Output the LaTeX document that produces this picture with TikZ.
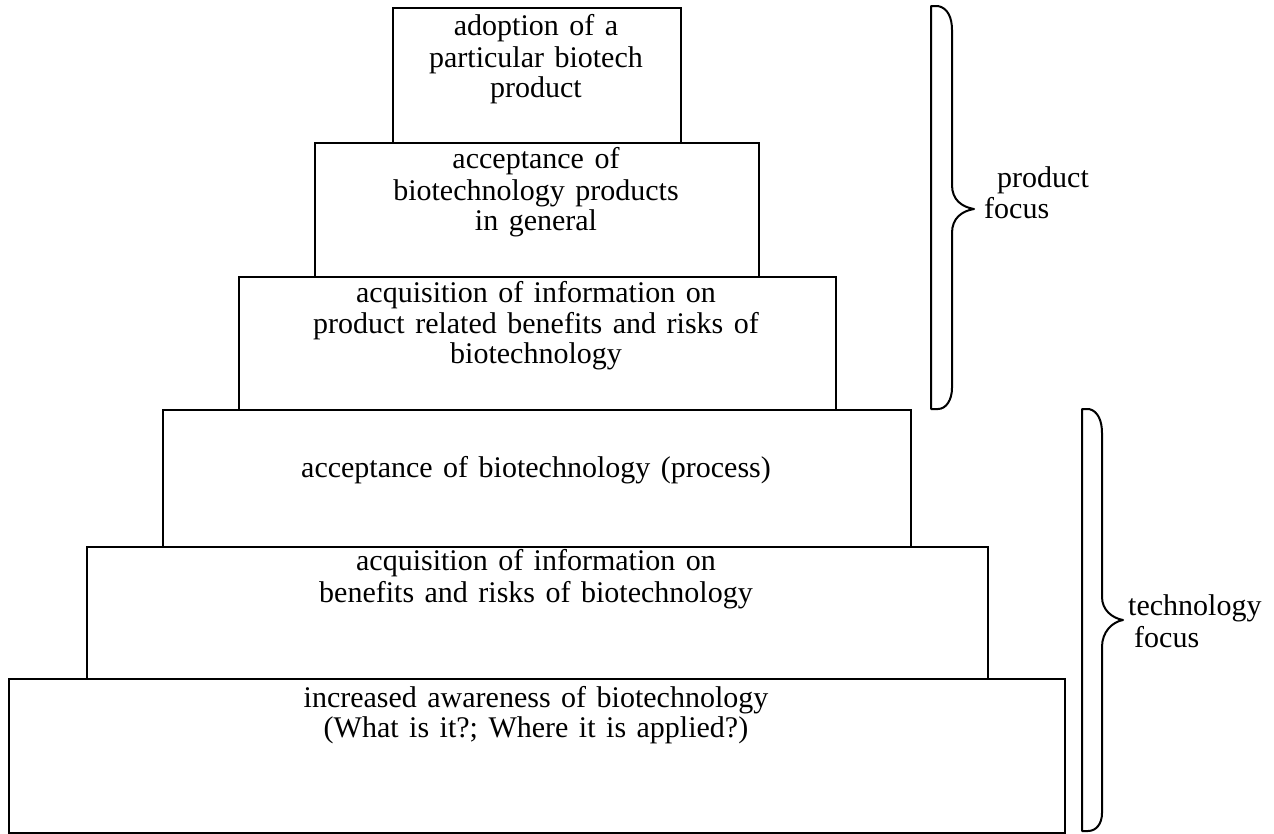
\documentclass[tikz,border=0pt]{standalone}
\usepackage{fontspec}
\setmainfont{Liberation Serif}[WordSpace=1.4]
\begin{document}
\begin{tikzpicture}[x=1pt,y=-1pt,
  tier/.style={draw, line width=2pt, inner sep=0pt, anchor=north west},
  txt/.style={anchor=base, inner sep=0pt, font=\fontsize{30}{31.5}\selectfont},
  lbl/.style={anchor=base west, inner sep=0pt, font=\fontsize{30}{31.5}\selectfont},
  bracestyle/.style={draw, line width=2pt, line join=round}]
\useasboundingbox (0,0) rectangle (1274,833);
% tiers
\node[tier, minimum width=288pt, minimum height=135pt] (b1) at (392,7) {};
\node[tier, minimum width=444pt, minimum height=134pt] (b2) at (314,142) {};
\node[tier, minimum width=597pt, minimum height=133pt] (b3) at (238,276) {};
\node[tier, minimum width=748pt, minimum height=137pt] (b4) at (162,409) {};
\node[tier, minimum width=901pt, minimum height=132pt] (b5) at (86,546) {};
\node[tier, minimum width=1056pt, minimum height=154pt] (b6) at (8,678) {};
% texts
\node[txt] (t1a) at (536,35) {adoption of a};
\node[txt] (t1b) at (536,67) {particular biotech};
\node[txt] (t1c) at (536,97) {product};
\node[txt] (t2a) at (536,168) {acceptance of};
\node[txt] (t2b) at (536,200) {biotechnology products};
\node[txt] (t2c) at (536,230) {in general};
\node[txt] (t3a) at (536,302) {acquisition of information on};
\node[txt] (t3b) at (536,333) {product related benefits and risks of};
\node[txt] (t3c) at (536,363) {biotechnology};
\node[txt] (t4a) at (536,477) {acceptance of biotechnology (process)};
\node[txt] (t5a) at (536,570) {acquisition of information on};
\node[txt] (t5b) at (536,602) {benefits and risks of biotechnology};
\node[txt] (t6a) at (536,707) {increased awareness of biotechnology};
\node[txt] (t6b) at (536,737) {(What is it?; Where it is applied?)};
% braces
\path[bracestyle] (931,6) -- (938,6) .. controls (948,8) and (952,18) .. (952,30)
  -- (952,185) .. controls (952,200) and (962,207) .. (974,209)
  .. controls (962,211) and (952,218) .. (952,233)
  -- (952,388) .. controls (952,400) and (946,409) .. (938,409) -- (931,409) -- cycle;
\path[bracestyle] (1082,409) -- (1089,409) .. controls (1098,411) and (1102,421) .. (1102,433)
  -- (1102,597) .. controls (1102,610) and (1112,618) .. (1123,620)
  .. controls (1112,622) and (1102,632) .. (1102,647)
  -- (1102,813) .. controls (1102,824) and (1096,831) .. (1088,831) -- (1082,831) -- cycle;
% labels
\node[lbl] (pl1) at (997,187) {product};
\node[lbl] (pl2) at (984,218) {focus};
\node[lbl] (tl1) at (1128,615) {technology};
\node[lbl] (tl2) at (1134,647) {focus};
\end{tikzpicture}
\end{document}
